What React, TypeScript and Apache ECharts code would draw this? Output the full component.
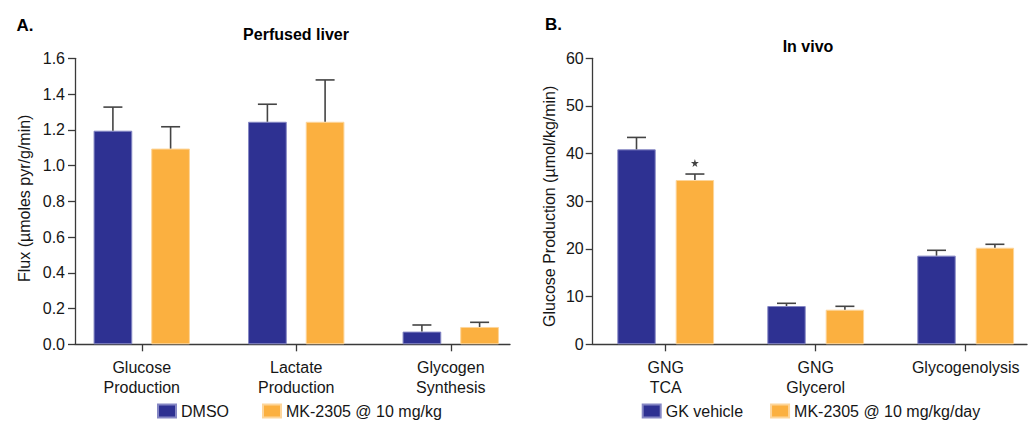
import React, { useEffect, useRef } from "react";
import * as echarts from "echarts";

// ---------- Data ----------
const categoriesA = ["Glucose\nProduction", "Lactate\nProduction", "Glycogen\nSynthesis"];
const dmsoMean = [1.195, 1.245, 0.071];
const dmsoErr = [0.132, 0.098, 0.037];
const mkAMean = [1.095, 1.245, 0.097];
const mkAErr = [0.122, 0.234, 0.026];
const yTicksA = { min: 0, max: 1.6, interval: 0.2 };

const categoriesB = ["GNG\nTCA", "GNG\nGlycerol", "Glycogenolysis"];
const gkMean = [40.9, 8.03, 18.6];
const gkErr = [2.5, 0.57, 1.12];
const mkBMean = [34.47, 7.26, 20.26];
const mkBErr = [1.25, 0.71, 0.72];
const mkBSignificant = [true, false, false];
const yTicksB = { min: 0, max: 60, interval: 10 };

const seriesNames = {
  dmso: "DMSO",
  mkA: "MK-2305 @ 10 mg/kg",
  gk: "GK vehicle",
  mkB: "MK-2305 @ 10 mg/kg/day",
};

// ---------- Styles ----------
const FONT = "'Liberation Sans', Arial, Helvetica, sans-serif";
const BLUE = "#2E3192";
const BLUE_EDGE = "#8587c4";
const ORANGE = "#FBB040";
const ORANGE_EDGE = "#fdd59a";
const AXIS = "#3a3a3a";
const ERR = "#444444";
const TEXT = "#161616";

const TOP = 58.3;
const HEIGHT = 286;

function errorSeries(
  mean: number[],
  err: number[],
  offset: number,
  axisIdx: number
) {
  return {
    type: "custom",
    xAxisIndex: axisIdx,
    yAxisIndex: axisIdx,
    z: 5,
    silent: true,
    data: mean.map((m, i) => [i, m, err[i]]),
    renderItem: (params: any, api: any) => {
      const c = api.value(0);
      const m = api.value(1);
      const e = api.value(2);
      const base = api.coord([c, m]);
      const top = api.coord([c, m + e]);
      const cx = base[0] + offset;
      const style = { stroke: ERR, lineWidth: 1.6 };
      return {
        type: "group",
        children: [
          { type: "line", shape: { x1: cx, y1: base[1], x2: cx, y2: top[1] }, style },
          { type: "line", shape: { x1: cx - 9.5, y1: top[1], x2: cx + 9.5, y2: top[1] }, style },
        ],
      };
    },
  };
}

function buildOption() {
  const offA = 28.85;
  const offB = 29.2;
  const labelStyle = { color: TEXT, fontFamily: FONT, fontSize: 16 };

  const mainX = (cats: string[], gridIndex: number) => ({
    type: "category",
    gridIndex,
    data: cats,
    axisLine: { show: false },
    axisTick: { show: true, alignWithLabel: true, length: 7, lineStyle: { color: AXIS, width: 1.3 } },
    axisLabel: { ...labelStyle, margin: 13, lineHeight: 20, interval: 0 },
    splitLine: { show: false },
  });
  const lineX = (gridIndex: number) => ({
    type: "value",
    gridIndex,
    min: 0,
    max: 1,
    axisLine: { show: true, lineStyle: { color: AXIS, width: 1.3 } },
    axisTick: { show: false },
    axisLabel: { show: false },
    splitLine: { show: false },
  });
  const hiddenY = (gridIndex: number) => ({
    type: "value",
    gridIndex,
    min: 0,
    max: 1,
    show: false,
    splitLine: { show: false },
  });

  return {
    animation: false,
    backgroundColor: "#ffffff",
    textStyle: { fontFamily: FONT },
    grid: [
      { left: 64.5, width: 463.5, top: TOP, height: HEIGHT, outerBoundsMode: "none" },
      { left: 75, width: 435, top: TOP, height: HEIGHT, outerBoundsMode: "none" },
      { left: 590.7, width: 450, top: TOP, height: HEIGHT, outerBoundsMode: "none" },
      { left: 592.7, width: 434.3, top: TOP, height: HEIGHT, outerBoundsMode: "none" },
    ],
    xAxis: [mainX(categoriesA, 0), lineX(1), mainX(categoriesB, 2), lineX(3)],
    yAxis: [
      {
        type: "value",
        gridIndex: 0,
        ...yTicksA,
        offset: -10.5,
        name: "Flux (µmoles pyr/g/min)",
        nameLocation: "middle",
        nameGap: 43,
        nameTextStyle: { ...labelStyle, padding: [0, 0, 0, 6] },
        axisLine: { show: true, lineStyle: { color: AXIS, width: 1.3 } },
        axisTick: { show: true, length: 7, lineStyle: { color: AXIS, width: 1.3 } },
        axisLabel: { ...labelStyle, margin: 10, formatter: (v: number) => v.toFixed(1) },
        splitLine: { show: false },
      },
      hiddenY(1),
      {
        type: "value",
        gridIndex: 2,
        ...yTicksB,
        offset: -2,
        name: "Glucose Production (µmol/kg/min)",
        nameLocation: "middle",
        nameGap: 35,
        nameTextStyle: { ...labelStyle, padding: [0, 10, 0, 0] },
        axisLine: { show: true, lineStyle: { color: AXIS, width: 1.3 } },
        axisTick: { show: true, length: 7, lineStyle: { color: AXIS, width: 1.3 } },
        axisLabel: { ...labelStyle, margin: 9 },
        splitLine: { show: false },
      },
      hiddenY(3),
    ],
    legend: [
      {
        data: [seriesNames.dmso, seriesNames.mkA],
        left: 157,
        top: 403,
        padding: 0,
        icon: "rect",
        itemWidth: 18,
        itemHeight: 13,
        itemGap: 33,
        textStyle: { ...labelStyle },
        selectedMode: false,
      },
      {
        data: [seriesNames.gk, seriesNames.mkB],
        left: 641.7,
        top: 403,
        padding: 0,
        icon: "rect",
        itemWidth: 18,
        itemHeight: 13,
        itemGap: 27,
        textStyle: { ...labelStyle },
        selectedMode: false,
      },
    ],
    graphic: [
      { type: "text", x: 16.5, y: 25, style: { text: "A.", font: `bold 17px ${FONT}`, fill: "#000", textVerticalAlign: "middle" } },
      { type: "text", x: 296, y: 34, style: { text: "Perfused liver", font: `bold 16px ${FONT}`, fill: "#000", textAlign: "center", textVerticalAlign: "middle" } },
      { type: "text", x: 545, y: 24, style: { text: "B.", font: `bold 17px ${FONT}`, fill: "#000", textVerticalAlign: "middle" } },
      { type: "text", x: 808, y: 46.5, style: { text: "In vivo", font: `bold 16px ${FONT}`, fill: "#000", textAlign: "center", textVerticalAlign: "middle" } },
    ],
    series: [
      {
        name: seriesNames.dmso,
        type: "bar",
        xAxisIndex: 0,
        yAxisIndex: 0,
        data: dmsoMean,
        barWidth: 38.7,
        barGap: "49%",
        itemStyle: { color: BLUE, borderColor: BLUE_EDGE, borderWidth: 1 },
      },
      {
        name: seriesNames.mkA,
        type: "bar",
        xAxisIndex: 0,
        yAxisIndex: 0,
        data: mkAMean,
        barWidth: 38.7,
        barGap: "49%",
        itemStyle: { color: ORANGE, borderColor: ORANGE_EDGE, borderWidth: 1 },
      },
      errorSeries(dmsoMean, dmsoErr, -offA, 0),
      errorSeries(mkAMean, mkAErr, offA, 0),
      {
        name: seriesNames.gk,
        type: "bar",
        xAxisIndex: 2,
        yAxisIndex: 2,
        data: gkMean,
        barWidth: 38.4,
        barGap: "52%",
        itemStyle: { color: BLUE, borderColor: BLUE_EDGE, borderWidth: 1 },
      },
      {
        name: seriesNames.mkB,
        type: "bar",
        xAxisIndex: 2,
        yAxisIndex: 2,
        data: mkBMean,
        barWidth: 38.4,
        barGap: "52%",
        itemStyle: { color: ORANGE, borderColor: ORANGE_EDGE, borderWidth: 1 },
      },
      errorSeries(gkMean, gkErr, -offB, 2),
      errorSeries(mkBMean, mkBErr, offB, 2),
      {
        type: "scatter",
        xAxisIndex: 2,
        yAxisIndex: 2,
        silent: true,
        z: 6,
        symbol:
          "path://M50,0 L61,35 L98,35 L68,57 L79,91 L50,70 L21,91 L32,57 L2,35 L39,35 Z",
        symbolSize: 8,
        symbolOffset: [offB, -11],
        itemStyle: { color: "#111" },
        data: mkBMean
          .map((m, i) => (mkBSignificant[i] ? [i, m + mkBErr[i]] : null))
          .filter((d) => d !== null),
      },
    ],
  };
}

export default function App() {
  const ref = useRef<HTMLDivElement>(null);
  useEffect(() => {
    document.body.style.margin = "0";
    if (!ref.current) return;
    const chart = echarts.init(ref.current, null, { renderer: "svg" });
    chart.setOption(buildOption() as any);
    return () => chart.dispose();
  }, []);
  return (
    <div
      ref={ref}
      style={{ position: "absolute", left: 0, top: 0, width: 1036, height: 421 }}
    />
  );
}
